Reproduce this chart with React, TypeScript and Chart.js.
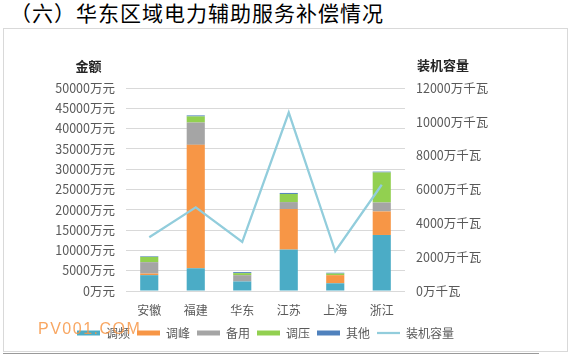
import React, { useEffect, useRef } from "react";
import { Chart, registerables } from "chart.js";

Chart.register(...registerables);

const categories = ["安徽", "福建", "华东", "江苏", "上海", "浙江"];
const seriesNames = ["调频", "调峰", "备用", "调压", "其他", "装机容量"];
const freqReg = [3900, 5600, 2350, 10200, 1900, 13800]; // 调频
const peakReg = [400, 30400, 0, 10000, 2000, 5800]; // 调峰
const reserve = [2800, 5500, 1550, 1700, 0, 2200]; // 备用
const voltReg = [1300, 1500, 500, 2000, 400, 7400]; // 调压
const others = [150, 250, 250, 250, 200, 200]; // 其他
const capacity = [3180, 4950, 2900, 10550, 2350, 6280]; // 装机容量 (万千瓦)

const leftMax = 50000;
const leftStep = 5000;
const rightMax = 12000;
const rightStep = 2000;
const leftUnit = "万元";
const rightUnit = "万千瓦";
const leftTitle = "金额";
const rightTitle = "装机容量";
const pageTitle = "（六）华东区域电力辅助服务补偿情况";

const barColors = ["#4bacc6", "#f79646", "#a5a5a5", "#92d050", "#4f81bd"];
const lineColor = "#92cddc";
const FONT = '"Noto Sans CJK SC", "Noto Sans", sans-serif';

const axisTitlePlugin = {
  id: "axisTitles",
  afterDraw(chart: any) {
    const ctx = chart.ctx;
    const top = chart.chartArea.top;
    ctx.save();
    ctx.font = `bold 13px ${FONT}`;
    ctx.fillStyle = "#262626";
    ctx.textBaseline = "middle";
    ctx.textAlign = "center";
    ctx.fillText(leftTitle, chart.scales.y.right - 37.5, top - 22);
    ctx.textAlign = "left";
    ctx.fillText(rightTitle, chart.scales.y1.left + 12, top - 23);
    ctx.restore();
  },
};

export default function App() {
  const ref = useRef<HTMLCanvasElement>(null);

  useEffect(() => {
    if (!ref.current) return;
    const barSeries = [freqReg, peakReg, reserve, voltReg, others];
    const datasets: any[] = barSeries.map((data, i) => ({
      type: "bar",
      label: seriesNames[i],
      data,
      backgroundColor: barColors[i],
      borderWidth: 0,
      yAxisID: "y",
      stack: "s",
      barPercentage: 0.39,
      categoryPercentage: 1,
      order: 0,
    }));
    datasets.push({
      type: "line",
      label: seriesNames[5],
      data: capacity,
      borderColor: lineColor,
      backgroundColor: lineColor,
      borderWidth: 2.25,
      pointRadius: 0,
      tension: 0,
      yAxisID: "y1",
      order: -1,
    });

    const chart = new Chart(ref.current, {
      type: "bar",
      data: { labels: categories, datasets },
      options: {
        responsive: false,
        animation: false,
        devicePixelRatio: 1,
        layout: { padding: { top: 59, left: 0, right: 40, bottom: 2 } },
        plugins: {
          tooltip: { enabled: false },
          legend: {
            position: "bottom",
            labels: {
              usePointStyle: true,
              pointStyleWidth: 23,
              boxHeight: 5,
              padding: 7,
              color: "#595959",
              font: { size: 12, family: FONT },
              generateLabels(c: any) {
                const items = (Chart.defaults.plugins.legend.labels as any).generateLabels(c);
                return items
                  .sort((a: any, b: any) => a.datasetIndex - b.datasetIndex)
                  .map((it: any) => ({
                    ...it,
                    pointStyle: it.datasetIndex === 5 ? "line" : "rect",
                    lineWidth: it.datasetIndex === 5 ? 2.25 : 0,
                    strokeStyle: it.datasetIndex === 5 ? lineColor : it.fillStyle,
                  }));
              },
            },
          },
        },
        scales: {
          x: {
            stacked: true,
            grid: { display: false },
            border: { display: false },
            ticks: { color: "#595959", font: { size: 12, family: FONT }, padding: 4 },
            afterFit(scale: any) {
              scale.height = 29;
            },
          },
          y: {
            position: "left",
            stacked: true,
            min: 0,
            max: leftMax,
            grid: { color: "#d9d9d9", lineWidth: 1, drawTicks: false },
            border: { display: false },
            ticks: {
              stepSize: leftStep,
              color: "#595959",
              font: { size: 12.5, family: FONT },
              padding: 11,
              callback: (v: any) => `${v}${leftUnit}`,
            },
            afterFit(scale: any) {
              scale.width = 122;
            },
          },
          y1: {
            position: "right",
            min: 0,
            max: rightMax,
            grid: { display: false, drawTicks: false },
            border: { display: false },
            ticks: {
              stepSize: rightStep,
              color: "#595959",
              font: { size: 12.5, family: FONT },
              padding: 11,
              callback: (v: any) => `${v}${rightUnit}`,
            },
            afterFit(scale: any) {
              scale.width = 122;
            },
          },
        },
      } as any,
      plugins: [axisTitlePlugin],
    });
    return () => chart.destroy();
  }, []);

  return (
    <div
      style={{
        position: "absolute",
        left: 0,
        top: 0,
        width: 573,
        height: 355,
        background: "#fff",
        overflow: "hidden",
      }}
    >
      <div
        style={{
          position: "absolute",
          left: 10,
          top: 0,
          fontFamily: FONT,
          fontSize: 21,
          lineHeight: "25px",
          letterSpacing: 1,
          color: "#000",
          whiteSpace: "nowrap",
        }}
      >
        {pageTitle}
      </div>
      <div
        style={{
          position: "absolute",
          left: 3,
          top: 28,
          width: 565,
          height: 324,
          boxSizing: "border-box",
          border: "1px solid #d9d9d9",
        }}
      />
      <canvas
        ref={ref}
        width={563}
        height={322}
        style={{ position: "absolute", left: 4, top: 29, width: 563, height: 322 }}
      />
      <div
        style={{
          position: "absolute",
          left: 38,
          top: 321,
          fontFamily: '"Liberation Sans", Arial, sans-serif',
          fontSize: 16,
          lineHeight: "16px",
          letterSpacing: 1.5,
          color: "rgba(247,150,70,0.85)",
          whiteSpace: "nowrap",
        }}
      >
        PV001.COM
      </div>
      <div
        style={{
          position: "absolute",
          left: 3,
          top: 353,
          width: 536,
          height: 1,
          background: "#9a9a9a",
        }}
      />
    </div>
  );
}
